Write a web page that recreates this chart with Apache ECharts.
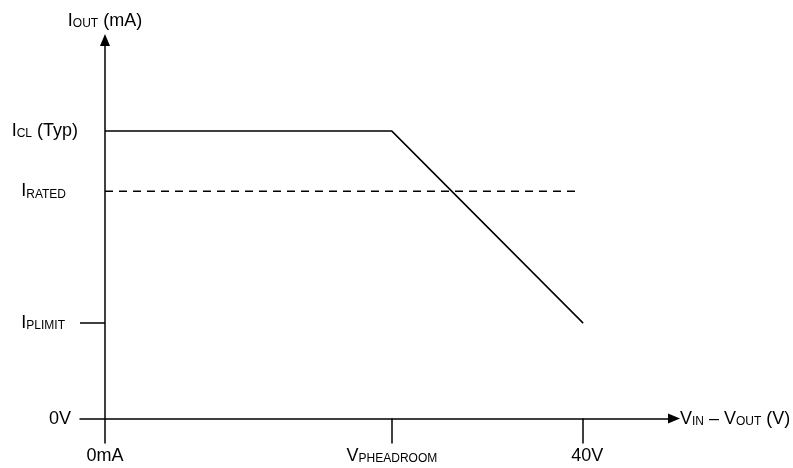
<!DOCTYPE html>
<html><head><meta charset="utf-8">
<script src="https://cdn.jsdelivr.net/npm/echarts@6/dist/echarts.min.js"></script>
<style>html,body{margin:0;padding:0;background:#fff}#c{width:793px;height:468px}</style>
</head><body><div id="c"></div>
<script>
// X axis ticks (V_IN - V_OUT)
const xTickValues = [0, 24, 40];
const xTickMain = ['0mA', 'V', '40V'];
const xTickSub = ['', 'PHEADROOM', ''];
// Y axis ticks (I_OUT)
const yTickValues = [0, 33.2, 79.1, 100];
const yTickMain = ['0V', 'I', 'I', 'I'];
const yTickSub = ['', 'PLIMIT', 'RATED', 'CL'];
const yTickTail = ['', '', '', ' (Typ)'];
// Current-limit curve
const iclX = [0, 24, 40];
const iclY = [100, 100, 33.2];
// Rated current (dashed)
const ratedX = [0, 39.6];
const ratedY = [79.1, 79.1];

const FONT = "'Liberation Sans', Arial, sans-serif";
const rich = {
  m: {fontSize: 18, fontFamily: FONT, color: '#000', verticalAlign: 'bottom'},
  s: {fontSize: 12, fontFamily: FONT, color: '#000', verticalAlign: 'bottom'},
  g7: {width: 7, fontSize: 12},
  g8: {width: 8, fontSize: 12},
  g12: {width: 12, fontSize: 12},
  g13: {width: 13, fontSize: 12}
};
const yPad = ['g7', 'g13', 'g12', ''];
const xPadLead = ['', '', 'g8'];

function zip(a, b) { return a.map((v, i) => [v, b[i]]); }

function xLabel(v) {
  const i = xTickValues.findIndex(t => Math.abs(t - v) < 1e-6);
  if (i < 0) return '';
  let s = '';
  if (xPadLead[i]) s += '{' + xPadLead[i] + '| }';
  s += '{m|' + xTickMain[i] + '}';
  if (xTickSub[i]) s += '{s|' + xTickSub[i] + '}';
  return s;
}
function yLabel(v) {
  const i = yTickValues.findIndex(t => Math.abs(t - v) < 1e-6);
  if (i < 0) return '';
  let s = '{m|' + yTickMain[i] + '}';
  if (yTickSub[i]) s += '{s|' + yTickSub[i] + '}';
  if (yTickTail[i]) s += '{m|' + yTickTail[i] + '}';
  if (yPad[i]) s += '{' + yPad[i] + '| }';
  return s;
}

const chart = echarts.init(document.getElementById('c'), null, {renderer: 'canvas'});
const axisLineStyle = {color: '#000', width: 1.5};
chart.setOption({
  animation: false,
  backgroundColor: '#fff',
  grid: {left: 80, right: 119, top: 40, bottom: 25, containLabel: false, outerBoundsMode: 'none'},
  xAxis: {
    type: 'value', min: -2.09, max: 47.6,
    axisLine: {show: true, onZero: true, symbol: ['none', 'triangle'], symbolSize: [10, 12], lineStyle: axisLineStyle},
    axisTick: {show: true, inside: false, length: 25, customValues: [24, 40], lineStyle: axisLineStyle},
    axisLabel: {show: true, customValues: xTickValues, margin: 4, formatter: xLabel, rich: rich},
    splitLine: {show: false},
    name: '{m|V}{s|IN}{m| – V}{s|OUT}{m| (V)}',
    nameLocation: 'end', nameGap: 6,
    nameTextStyle: {rich: rich, align: 'left', verticalAlign: 'middle'}
  },
  yAxis: {
    type: 'value', min: -8.5, max: 131.7,
    axisLine: {show: true, onZero: true, symbol: ['none', 'triangle'], symbolSize: [10, 12], lineStyle: axisLineStyle},
    axisTick: {show: true, inside: false, length: 25, customValues: [33.2], lineStyle: axisLineStyle},
    axisLabel: {show: true, customValues: yTickValues, margin: 2, formatter: yLabel, rich: rich},
    splitLine: {show: false},
    name: '{m|I}{s|OUT}{m| (mA)}',
    nameLocation: 'end', nameGap: 10,
    nameTextStyle: {rich: rich}
  },
  series: [
    {type: 'line', data: zip(iclX, iclY), showSymbol: false, symbol: 'none',
     lineStyle: {color: '#000', width: 1.5}},
    {type: 'line', data: zip(ratedX, ratedY), showSymbol: false, symbol: 'none',
     lineStyle: {color: '#000', width: 1.5, type: [8, 6]}}
  ]
});
</script>
</body></html>
